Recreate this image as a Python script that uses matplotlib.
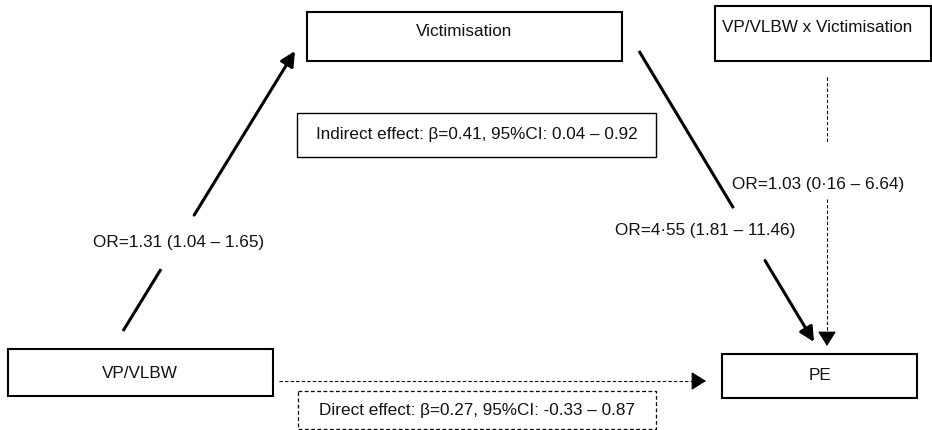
import matplotlib.pyplot as plt
from matplotlib.patches import Rectangle

plt.rcParams['font.family'] = ['Liberation Sans', 'DejaVu Sans']

# --- text of the diagram ---
node_labels = ["Victimisation", "VP/VLBW x Victimisation", "VP/VLBW", "PE"]
path_labels = ["OR=1.31 (1.04 – 1.65)", "OR=4·55 (1.81 – 11.46)", "OR=1.03 (0·16 – 6.64)"]
effect_labels = ["Indirect effect: β=0.41, 95%CI: 0.04 – 0.92",
                 "Direct effect: β=0.27, 95%CI: -0.33 – 0.87"]

# --- layout in pixel units (x0, y0, x1, y1, text x, text y, linestyle) ---
node_boxes = [
    (307, 12, 622, 61, 464, 32, '-'),
    (715, 6, 931, 61, 817, 28, '-'),
    (8, 349, 273, 396, 140, 373, '-'),
    (722, 354, 917, 398, 820, 376, '-'),
]
effect_boxes = [
    (297, 113, 656, 157, 477, 135, '-'),
    (298, 391, 656, 429, 477, 410, (0, (3, 2))),
]
# start, end, gap fractions along the path, label position, solid?
paths = [
    ((123, 331), (295, 51), (0.221, 0.414), (179, 242), True),
    ((639, 51), (814, 342), (0.54, 0.72), (705, 230), True),
    ((827, 77), (827, 346), (0.245, 0.454), (818, 185), False),
]
direct_path = ((279, 381), (706, 381))

fig = plt.figure(figsize=(9.32, 4.30), dpi=100)
ax = fig.add_axes([0, 0, 1, 1])
ax.set_xlim(0, 932)
ax.set_ylim(430, 0)
ax.axis('off')

fs = 12.3
dash = (0, (3, 2))
head = '-|>,head_length=0.4,head_width=0.25'


def box(spec, label, lw):
    x0, y0, x1, y1, tx, ty, ls = spec
    ax.add_patch(Rectangle((x0, y0), x1 - x0, y1 - y0, fill=False,
                           edgecolor='black', lw=lw, linestyle=ls))
    ax.text(tx, ty, label, ha='center', va='center', fontsize=fs, color='#111111')


for spec, label in zip(node_boxes, node_labels):
    box(spec, label, 1.5)
for spec, label in zip(effect_boxes, effect_labels):
    box(spec, label, 1.0 if spec[6] == '-' else 0.9)


def point(p0, p1, t):
    return (p0[0] + (p1[0] - p0[0]) * t, p0[1] + (p1[1] - p0[1]) * t)


def dashed_arrow(p0, p1):
    # dashed shaft, then a solid head so the head stays filled and crisp
    n = point(p0, p1, 1 - 12 / max(abs(p1[0] - p0[0]), abs(p1[1] - p0[1])))
    ax.plot([p0[0], n[0]], [p0[1], n[1]], color='black', lw=0.8, linestyle=dash)
    ax.annotate('', xy=p1, xytext=n,
                arrowprops=dict(arrowstyle=head, color='black', lw=0.8,
                                mutation_scale=23, shrinkA=0, shrinkB=0))


for (p0, p1, gap, lab_xy, solid), label in zip(paths, path_labels):
    a = point(p0, p1, gap[0])
    b = point(p0, p1, gap[1])
    if solid:
        ax.plot([p0[0], a[0]], [p0[1], a[1]], color='black', lw=2.2,
                solid_capstyle='butt')
        ax.annotate('', xy=p1, xytext=b,
                    arrowprops=dict(arrowstyle='-|>', color='black', lw=2.2,
                                    mutation_scale=22, shrinkA=0, shrinkB=0))
    else:
        ax.plot([p0[0], a[0]], [p0[1], a[1]], color='black', lw=0.8, linestyle=dash)
        dashed_arrow(b, p1)
    ax.text(lab_xy[0], lab_xy[1], label, ha='center', va='center', fontsize=fs,
            color='#111111')

dashed_arrow(direct_path[0], direct_path[1])

fig.savefig('out.png', dpi=100)
